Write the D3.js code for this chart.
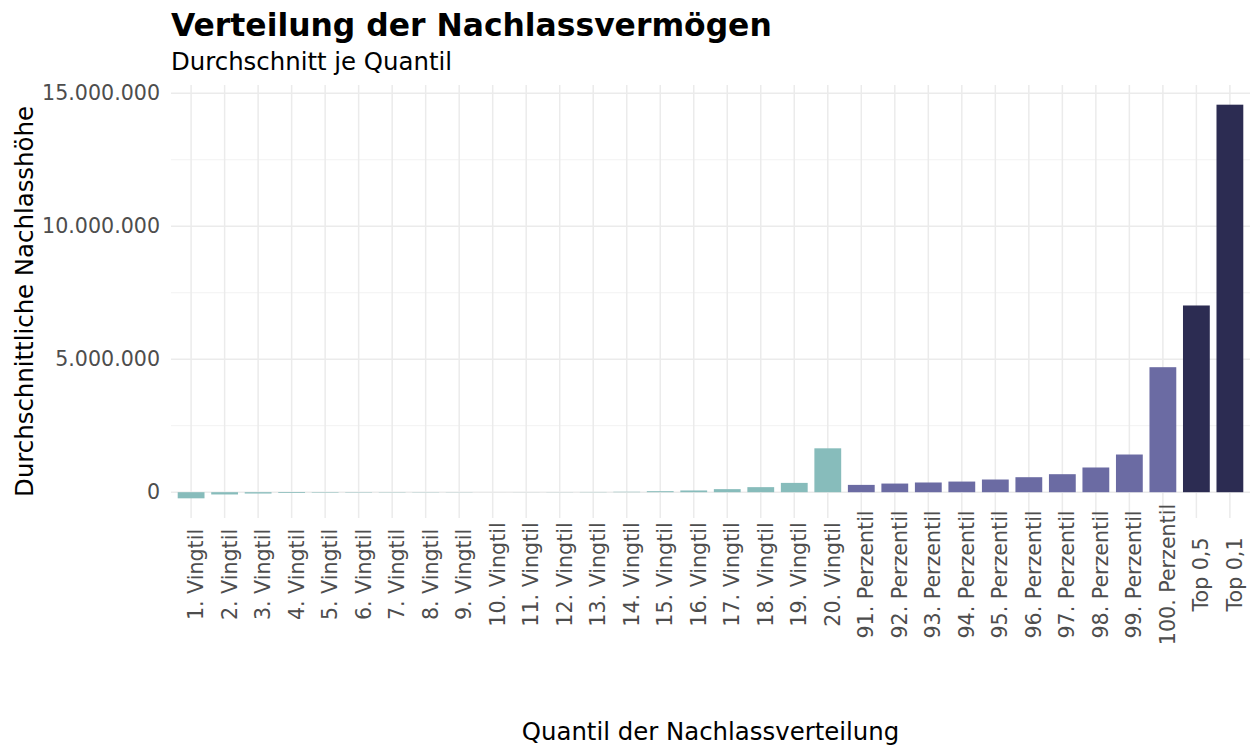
<!DOCTYPE html>
<html>
<head>
<meta charset="utf-8">
<script src="https://cdn.jsdelivr.net/npm/d3@7"></script>
<style>
  body { margin: 0; background: #fff; }
  text { font-family: "DejaVu Sans", sans-serif; }
</style>
</head>
<body>
<div id="root"></div>
<script>
// Quantile categories and average estate values (EUR)
var categories = [
  "1. Vingtil", "2. Vingtil", "3. Vingtil", "4. Vingtil", "5. Vingtil",
  "6. Vingtil", "7. Vingtil", "8. Vingtil", "9. Vingtil", "10. Vingtil",
  "11. Vingtil", "12. Vingtil", "13. Vingtil", "14. Vingtil", "15. Vingtil",
  "16. Vingtil", "17. Vingtil", "18. Vingtil", "19. Vingtil", "20. Vingtil",
  "91. Perzentil", "92. Perzentil", "93. Perzentil", "94. Perzentil", "95. Perzentil",
  "96. Perzentil", "97. Perzentil", "98. Perzentil", "99. Perzentil", "100. Perzentil",
  "Top 0,5", "Top 0,1"
];
var values = [
  -230000, -85000, -50000, -30000, -18000,
  -14000, -11000, -9000, -7000, 1000,
  3000, 5000, 9000, 16000, 38000,
  65000, 115000, 190000, 350000, 1650000,
  275000, 325000, 365000, 400000, 477000,
  564000, 677000, 929000, 1417000, 4700000,
  7020000, 14570000
];
var groups = [
  "V","V","V","V","V","V","V","V","V","V",
  "V","V","V","V","V","V","V","V","V","V",
  "P","P","P","P","P","P","P","P","P","P",
  "T","T"
];
var yTicks = [0, 5000000, 10000000, 15000000];
var yMinor = [2500000, 7500000, 12500000];

var colors = { V: "#87bcbb", P: "#6b6ba3", T: "#2c2c52" };

var W = 1255, H = 747;
var pLeft = 171, pRight = 1250, pTop = 85, pBottom = 518;

var svg = d3.select("#root")
    .append("svg")
    .attr("width", W)
    .attr("height", H);

var data = categories.map(function (c, i) {
  return { cat: c, val: values[i], grp: groups[i] };
});

var x = d3.scaleBand()
    .domain(categories)
    .range([pLeft, pRight])
    .paddingInner(0.2)
    .paddingOuter(0.2);

var ext = d3.extent(values);
var pad = (ext[1] - ext[0]) * 0.05;
var y = d3.scaleLinear()
    .domain([ext[0] - pad, ext[1] + pad])
    .range([pBottom, pTop]);

// grid
var grid = svg.append("g");
grid.selectAll(".minor")
    .data(yMinor)
    .enter()
    .append("line")
    .attr("x1", pLeft).attr("x2", pRight)
    .attr("y1", function (d) { return y(d); })
    .attr("y2", function (d) { return y(d); })
    .attr("stroke", "#f2f2f2")
    .attr("stroke-width", 1);
grid.selectAll(".major")
    .data(yTicks)
    .enter()
    .append("line")
    .attr("x1", pLeft).attr("x2", pRight)
    .attr("y1", function (d) { return y(d); })
    .attr("y2", function (d) { return y(d); })
    .attr("stroke", "#ebebeb")
    .attr("stroke-width", 1.5);
grid.selectAll(".vert")
    .data(categories)
    .enter()
    .append("line")
    .attr("x1", function (d) { return x(d) + x.bandwidth() / 2; })
    .attr("x2", function (d) { return x(d) + x.bandwidth() / 2; })
    .attr("y1", pTop).attr("y2", pBottom)
    .attr("stroke", "#ebebeb")
    .attr("stroke-width", 1.5);

// bars
svg.selectAll("rect.bar")
    .data(data)
    .enter()
    .append("rect")
    .attr("class", "bar")
    .attr("x", function (d) { return x(d.cat); })
    .attr("width", x.bandwidth())
    .attr("y", function (d) { return y(Math.max(0, d.val)); })
    .attr("height", function (d) { return Math.abs(y(d.val) - y(0)); })
    .attr("fill", function (d) { return colors[d.grp]; });

// y axis labels
var fmt = function (d) {
  return d3.format(",")(d).replace(/,/g, ".");
};
svg.selectAll("text.ytick")
    .data(yTicks)
    .enter()
    .append("text")
    .attr("x", pLeft - 11)
    .attr("y", function (d) { return y(d); })
    .attr("dy", "0.35em")
    .attr("text-anchor", "end")
    .attr("font-size", 20.6)
    .attr("fill", "#4d4d4d")
    .text(fmt);

// x axis labels, rotated and centred on a common line
svg.selectAll("text.xtick")
    .data(categories)
    .enter()
    .append("text")
    .attr("transform", function (d) {
      return "translate(" + (x(d) + x.bandwidth() / 2 + 12) + ",574.5) rotate(-90)";
    })
    .attr("text-anchor", "middle")
    .attr("font-size", 20.6)
    .attr("fill", "#4d4d4d")
    .text(function (d) { return d; });

// titles
svg.append("text")
    .attr("x", 171).attr("y", 36)
    .attr("font-size", 31.4)
    .attr("font-weight", "bold")
    .attr("fill", "#000")
    .text("Verteilung der Nachlassvermögen");
svg.append("text")
    .attr("x", 171).attr("y", 70)
    .attr("font-size", 24.4)
    .attr("fill", "#000")
    .text("Durchschnitt je Quantil");
svg.append("text")
    .attr("transform", "translate(33," + ((pTop + pBottom) / 2) + ") rotate(-90)")
    .attr("text-anchor", "middle")
    .attr("font-size", 24.4)
    .attr("fill", "#000")
    .text("Durchschnittliche Nachlasshöhe");
svg.append("text")
    .attr("x", (pLeft + pRight) / 2).attr("y", 740)
    .attr("text-anchor", "middle")
    .attr("font-size", 24.4)
    .attr("fill", "#000")
    .text("Quantil der Nachlassverteilung");
</script>
</body>
</html>
